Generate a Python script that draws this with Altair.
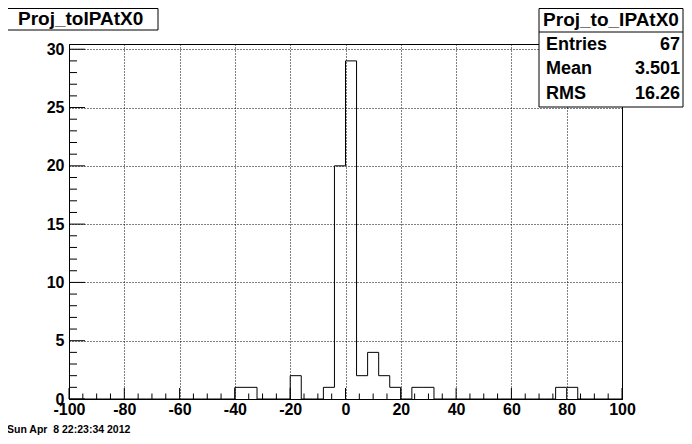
import altair as alt
import pandas as pd

FONT = "Liberation Sans"

# ---- data -------------------------------------------------------------
bin_width = 4
x_min, x_max = -100, 100
y_max = 30.45
counts = [0, 0, 0, 0, 0, 0, 0, 0, 0, 0,      # -100 .. -60
          0, 0, 0, 0, 0, 1, 1, 0, 0, 0,      # -60 .. -20
          2, 0, 0, 1, 20, 29, 2, 4, 2, 1,    # -20 .. 20
          0, 1, 1, 0, 0, 0, 0, 0, 0, 0,      # 20 .. 60
          0, 0, 0, 0, 1, 1, 0, 0, 0, 0]      # 60 .. 100
x_major = [-100, -80, -60, -40, -20, 0, 20, 40, 60, 80, 100]
y_major = [0, 5, 10, 15, 20, 25, 30]
x_minor = [v for v in range(-100, 101, 5) if v % 20 != 0]
y_minor = [v for v in range(0, 31) if v % 5 != 0]

title_text = "Proj_toIPAtX0"
stats_title = "Proj_to_IPAtX0"
stats_names = ["Entries", "Mean", "RMS"]
stats_values = ["67", "3.501", "16.26"]
date_text = "Sun Apr \u00a08 22:23:34 2012"

# ---- frames -------------------------------------------------------------
edges = [x_min + bin_width * i for i in range(len(counts))] + [x_max]
hist = pd.DataFrame({"x": edges, "y": counts + [0]})
one = pd.DataFrame({"a": [0]})

W, H = 553, 355
xs = alt.Scale(domain=[x_min, x_max], nice=False, zero=False)
ys = alt.Scale(domain=[0, y_max], nice=False, zero=False)

axis_common = dict(
    grid=True, gridDash=[1, 2], gridColor="black", gridOpacity=1, gridWidth=1,
    ticks=False, domain=False, title=None,
    labelFont=FONT, labelFontSize=16, labelFontWeight="bold", labelColor="black",
    labelFlush=False, labelOverlap=False, labelExpr="toString(datum.value)",
)
x_axis = alt.Axis(values=x_major, labelPadding=2, **axis_common)
y_axis = alt.Axis(values=y_major, labelPadding=5, **axis_common)

line = alt.Chart(hist).mark_line(interpolate="step-after", color="black", strokeWidth=1).encode(
    x=alt.X("x:Q", scale=xs, axis=x_axis),
    y=alt.Y("y:Q", scale=ys, axis=y_axis),
    order="x:Q",
)


def xticks(vals, length):
    return alt.Chart(pd.DataFrame({"v": vals})).mark_rule(color="black", strokeWidth=1).encode(
        x=alt.X("v:Q", scale=xs, axis=x_axis), y=alt.value(H), y2=alt.value(H - length))


def yticks(vals, length):
    return alt.Chart(pd.DataFrame({"v": vals})).mark_rule(color="black", strokeWidth=1).encode(
        y=alt.Y("v:Q", scale=ys, axis=y_axis), x=alt.value(0), x2=alt.value(length))


def box(x, x2, y, y2):
    return alt.Chart(one).mark_rect(fill="white", stroke="black", strokeWidth=1).encode(
        x=alt.value(x), x2=alt.value(x2), y=alt.value(y), y2=alt.value(y2))


def hline(x, x2, y):
    return alt.Chart(one).mark_rule(color="black", strokeWidth=1).encode(
        x=alt.value(x), x2=alt.value(x2), y=alt.value(y))


def txt(s, x, y, size, align="left"):
    return alt.Chart(one).mark_text(
        text=s, align=align, baseline="alphabetic", font=FONT, fontSize=size,
        fontWeight="bold", color="black").encode(x=alt.value(x), y=alt.value(y))


# plot origin is at page (69, 44)
layers = [
    line,
    xticks(x_major, 11), xticks(x_minor, 5.5),
    yticks(y_major, 16), yticks(y_minor, 8),
    box(-62, 89, -35.5, -14),
    txt(title_text, -51, -19.5, 19),
    box(470, 614, -35.5, 63),
    hline(470, 614, -12),
    txt(stats_title, 542, -18, 19, align="center"),
]
row_y = [6, 30, 55]
for name, val, yy in zip(stats_names, stats_values, row_y):
    layers.append(txt(name, 477, yy, 18))
    layers.append(txt(val, 611, yy, 18, align="right"))
layers.append(txt(date_text, -62, 389, 10.5))

chart = alt.layer(*layers).properties(
    width=W, height=H,
    padding={"left": 61, "top": 36, "right": 62, "bottom": 37},
    autosize=alt.AutoSizeParams(type="none"),
    background="white",
).configure_view(stroke="black", strokeWidth=1)

chart.save("out.html", embed_options={"renderer": "svg", "actions": False})
